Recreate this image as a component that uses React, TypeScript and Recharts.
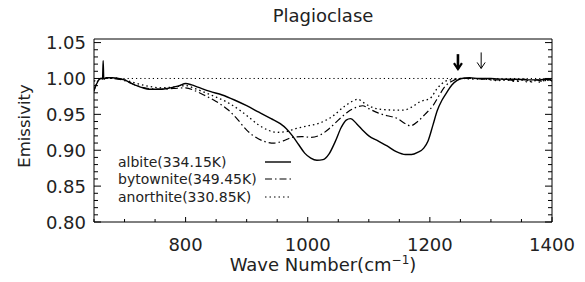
import React from "react";
import { LineChart, Line, XAxis, YAxis, ReferenceLine, ReferenceDot, Legend } from "recharts";

const FONT = "'DejaVu Sans', sans-serif";
const INK = "#222";

// plot box in page pixels
const BOX = { left: 94, right: 552, top: 39, bottom: 222 };

const xTicks = [650, 700, 750, 800, 850, 900, 950, 1000, 1050, 1100, 1150, 1200, 1250, 1300, 1350, 1400];
const xLabels = [800, 1000, 1200, 1400];
const yTicks = Array.from({ length: 26 }, (_, i) => Math.round((0.8 + i * 0.01) * 100) / 100);
const yLabels = [0.8, 0.85, 0.9, 0.95, 1.0, 1.05];

const albiteWave = [650, 654, 658, 662, 664, 665, 666, 670, 680, 690, 700, 710, 720, 730, 740, 750, 760, 770, 780, 790, 800, 810, 820, 840, 860, 880, 900, 920, 940, 955, 965, 975, 985, 995, 1005, 1015, 1025, 1035, 1045, 1055, 1063, 1070, 1080, 1090, 1100, 1115, 1130, 1145, 1160, 1170, 1180, 1190, 1197, 1205, 1212, 1220, 1228, 1236, 1244, 1252, 1265, 1280, 1300, 1320, 1340, 1360, 1380, 1390, 1400];
const albiteEmis = [0.984, 0.992, 0.998, 1.0, 0.999, 1.025, 0.999, 1.001, 1.001, 1.0, 0.998, 0.994, 0.99, 0.987, 0.985, 0.985, 0.985, 0.986, 0.988, 0.99, 0.993, 0.991, 0.988, 0.982, 0.977, 0.97, 0.962, 0.953, 0.944, 0.937, 0.93, 0.92, 0.908, 0.896, 0.889, 0.886, 0.887, 0.895, 0.912, 0.932, 0.942, 0.944, 0.937, 0.928, 0.92, 0.913, 0.906, 0.898, 0.894, 0.894, 0.897, 0.903, 0.913, 0.935, 0.955, 0.97, 0.981, 0.991, 0.997, 1.0, 1.001, 1.0, 1.0, 0.999, 0.999, 0.998, 0.998, 0.999, 0.997];

const bytowniteWave = [650, 655, 660, 680, 700, 720, 740, 760, 780, 800, 815, 830, 850, 870, 885, 900, 915, 930, 945, 960, 975, 990, 1005, 1020, 1035, 1050, 1065, 1080, 1090, 1100, 1115, 1130, 1145, 1160, 1168, 1180, 1192, 1205, 1215, 1225, 1238, 1250, 1270, 1290, 1310, 1330, 1345, 1355, 1365, 1375, 1385, 1395, 1400];
const bytowniteEmis = [0.982, 0.995, 1.0, 1.0, 0.997, 0.99, 0.986, 0.985, 0.986, 0.987, 0.983, 0.977, 0.968, 0.956, 0.943, 0.928, 0.918, 0.912, 0.91, 0.913, 0.918, 0.919, 0.918, 0.921, 0.93, 0.942, 0.953, 0.96, 0.962, 0.958, 0.952, 0.948, 0.945, 0.937, 0.934, 0.94, 0.95, 0.962, 0.976, 0.989, 0.997, 1.0, 1.0, 0.999, 0.998, 0.998, 0.996, 0.999, 0.995, 0.998, 0.996, 0.999, 0.997];

const anorthiteWave = [650, 660, 680, 700, 720, 740, 760, 780, 800, 815, 830, 850, 870, 890, 905, 920, 935, 950, 965, 980, 1000, 1020, 1040, 1060, 1075, 1082, 1092, 1105, 1120, 1140, 1158, 1170, 1185, 1200, 1212, 1225, 1240, 1255, 1270, 1290, 1310, 1325, 1340, 1350, 1360, 1370, 1380, 1390, 1400];
const anorthiteEmis = [0.996, 1.0, 1.001, 0.998, 0.993, 0.989, 0.987, 0.988, 0.99, 0.986, 0.981, 0.974, 0.966, 0.955, 0.945, 0.935, 0.928, 0.925, 0.926, 0.93, 0.934, 0.938, 0.947, 0.961, 0.969, 0.971, 0.966, 0.96, 0.957, 0.956, 0.956, 0.96, 0.968, 0.972, 0.986, 0.996, 0.999, 1.0, 0.999, 0.999, 0.997, 0.998, 0.996, 0.998, 0.995, 0.997, 0.995, 0.998, 0.996];

const seriesNames = ["albite(334.15K)", "bytownite(349.45K)", "anorthite(330.85K)"];
const seriesDash = ["", "7 3 1.5 3", "1.5 3"];

// arrows above the curves, in wave numbers
const arrowWaves = [1246, 1284];

const zip = (w: number[], e: number[]) => w.map((v, i) => ({ w: v, e: e[i] }));
const albite = zip(albiteWave, albiteEmis);
const bytownite = zip(bytowniteWave, bytowniteEmis);
const anorthite = zip(anorthiteWave, anorthiteEmis);

const isYLabel = (v: number) => yLabels.some((l) => Math.abs(l - v) < 1e-6);

const BottomTick = ({ x, payload }: any) => {
  const major = xLabels.includes(payload.value);
  return (
    <g>
      <line x1={x} x2={x} y1={BOX.bottom} y2={BOX.bottom - (major ? 5 : 3)} stroke="#000" />
      {major && (
        <text x={x} y={251} textAnchor="middle" fontSize={18} fontFamily={FONT} fill={INK}>
          {payload.value}
        </text>
      )}
    </g>
  );
};

const TopTick = ({ x, payload }: any) => {
  const major = xLabels.includes(payload.value);
  return <line x1={x} x2={x} y1={BOX.top} y2={BOX.top + (major ? 5 : 3)} stroke="#000" />;
};

const LeftTick = ({ y, payload }: any) => {
  const major = isYLabel(payload.value);
  return (
    <g>
      <line x1={BOX.left} x2={BOX.left + (major ? 7 : 4)} y1={y} y2={y} stroke="#000" />
      {major && (
        <text x={86} y={y + 6.5} textAnchor="end" fontSize={18} fontFamily={FONT} fill={INK}>
          {payload.value.toFixed(2)}
        </text>
      )}
    </g>
  );
};

const RightTick = ({ y, payload }: any) => {
  const major = isYLabel(payload.value);
  return <line x1={BOX.right} x2={BOX.right - (major ? 7 : 4)} y1={y} y2={y} stroke="#000" />;
};

const BoldArrow = ({ cx, cy }: any) => (
  <g stroke="#000" fill="none">
    <line x1={cx} x2={cx} y1={cy - 15} y2={cy} strokeWidth={2.6} />
    <path d={`M${cx - 4},${cy - 6} L${cx},${cy} L${cx + 4},${cy - 6}`} strokeWidth={2.2} />
  </g>
);

const ThinArrow = ({ cx, cy }: any) => (
  <g stroke="#000" fill="none" strokeWidth={1}>
    <line x1={cx} x2={cx} y1={cy - 16} y2={cy} />
    <path d={`M${cx - 4},${cy - 6} L${cx},${cy} L${cx + 4},${cy - 6}`} />
  </g>
);

const LegendBox = () => (
  <div style={{ fontFamily: FONT, fontSize: 14, color: INK }}>
    {seriesNames.map((name, i) => (
      <div key={name} style={{ display: "flex", alignItems: "center", height: 17.5 }}>
        <span style={{ width: 147, whiteSpace: "nowrap" }}>{name}</span>
        <svg width={26} height={4}>
          <line x1={0} x2={26} y1={2} y2={2} stroke="#000" strokeWidth={i === 0 ? 1.4 : 1.2} strokeDasharray={seriesDash[i] || undefined} />
        </svg>
      </div>
    ))}
  </div>
);

export default function App() {
  return (
    <div style={{ position: "absolute", left: 0, top: 0, width: 585, height: 282, background: "#fff" }}>
      <LineChart
        width={585}
        height={282}
        margin={{ top: BOX.top - 1, right: 585 - BOX.right - 1, bottom: 282 - BOX.bottom - 1, left: BOX.left - 1 }}
      >
        <XAxis
          dataKey="w"
          type="number"
          domain={[650, 1400]}
          ticks={xTicks}
          interval={0}
          height={1}
          tickSize={0}
          tickLine={false}
          tick={<BottomTick />}
          stroke="#000"
          allowDataOverflow
        />
        <XAxis
          xAxisId="top"
          orientation="top"
          type="number"
          domain={[650, 1400]}
          ticks={xTicks}
          interval={0}
          height={1}
          tickSize={0}
          tickLine={false}
          tick={<TopTick />}
          stroke="#000"
          allowDataOverflow
        />
        <YAxis
          type="number"
          domain={[0.8, 1.055]}
          ticks={yTicks}
          interval={0}
          width={1}
          tickSize={0}
          tickLine={false}
          tick={<LeftTick />}
          stroke="#000"
          allowDataOverflow
        />
        <YAxis
          yAxisId="right"
          orientation="right"
          type="number"
          domain={[0.8, 1.055]}
          ticks={yTicks}
          interval={0}
          width={1}
          tickSize={0}
          tickLine={false}
          tick={<RightTick />}
          stroke="#000"
          allowDataOverflow
        />
        <ReferenceLine y={1} stroke="#000" strokeWidth={1} strokeDasharray="1.2 3" />
        <Line data={anorthite} dataKey="e" name={seriesNames[2]} type="monotone" stroke="#000" strokeWidth={1.3} strokeDasharray={seriesDash[2]} dot={false} isAnimationActive={false} />
        <Line data={bytownite} dataKey="e" name={seriesNames[1]} type="monotone" stroke="#000" strokeWidth={1.2} strokeDasharray={seriesDash[1]} dot={false} isAnimationActive={false} />
        <Line data={albite} dataKey="e" name={seriesNames[0]} type="monotone" stroke="#000" strokeWidth={1.4} dot={false} isAnimationActive={false} />
        <ReferenceDot x={arrowWaves[0]} y={1.013} r={0} shape={<BoldArrow />} />
        <ReferenceDot x={arrowWaves[1]} y={1.014} r={0} shape={<ThinArrow />} />
        <Legend
          layout="vertical"
          align="center"
          verticalAlign="middle"
          content={<LegendBox />}
          wrapperStyle={{ left: 118, top: 153, width: 180 }}
        />
      </LineChart>
      <svg width={585} height={282} style={{ position: "absolute", left: 0, top: 0, pointerEvents: "none" }}>
        <text x={323} y={22} textAnchor="middle" fontSize={18} fontFamily={FONT} fill={INK}>
          Plagioclase
        </text>
        <text x={323} y={271} textAnchor="middle" fontSize={18} fontFamily={FONT} fill={INK}>
          Wave Number(cm
          <tspan dy={-7} fontSize={12}>−1</tspan>
          <tspan dy={7}>)</tspan>
        </text>
        <text
          x={0}
          y={0}
          transform="translate(30,126) rotate(-90)"
          textAnchor="middle"
          fontSize={16.5}
          fontFamily={FONT}
          fill={INK}
        >
          Emissivity
        </text>
      </svg>
    </div>
  );
}
